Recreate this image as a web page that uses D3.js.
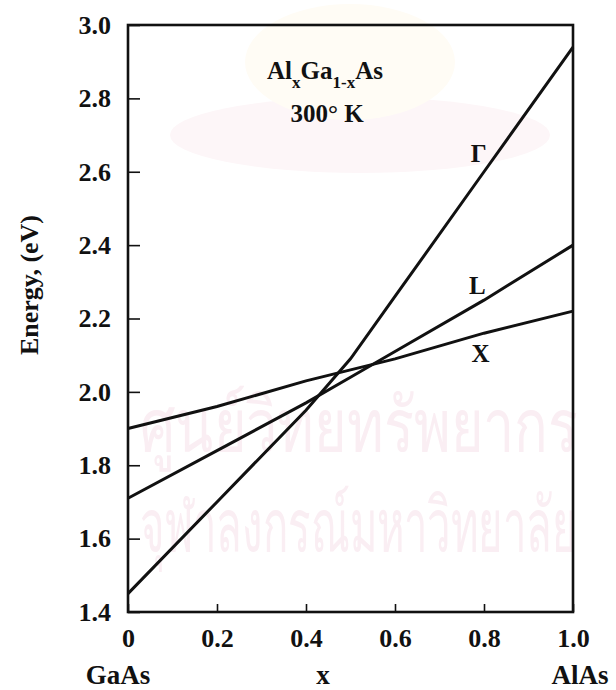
<!DOCTYPE html>
<html>
<head>
<meta charset="utf-8">
<script src="https://cdn.jsdelivr.net/npm/d3@7"></script>
<style>
  html,body{margin:0;padding:0;background:#fff;}
  svg{display:block;}
</style>
</head>
<body>
<div id="chart"></div>
<script>
// AlxGa1-xAs band gaps at 300 K
const xs     = [0, 0.2, 0.4, 0.5, 0.6, 0.8, 1.0];
const gammaE = [1.45, 1.70, 1.95, 2.09, 2.26, 2.60, 2.94];
const lE     = [1.71, 1.84, 1.97, 2.04, 2.11, 2.25, 2.40];
const xE     = [1.90, 1.96, 2.03, 2.06, 2.09, 2.16, 2.22];
const yTicks = [1.4, 1.6, 1.8, 2.0, 2.2, 2.4, 2.6, 2.8, 3.0];
const xTicks = [0, 0.2, 0.4, 0.6, 0.8, 1.0];
const xTickLabels = ['0', '0.2', '0.4', '0.6', '0.8', '1.0'];
const series = [
  {name: 'Γ', values: gammaE, lx: 0.788, ly: 2.65},
  {name: 'L', values: lE, lx: 0.785, ly: 2.29},
  {name: 'X', values: xE, lx: 0.792, ly: 2.105}
];
const watermark = ['ศูนย์วิทยทรัพยากร', 'จุฬาลงกรณ์มหาวิทยาลัย'];

const W = 616, H = 690;
const m = {top: 25, right: 43, bottom: 78, left: 128};
const iw = W - m.left - m.right, ih = H - m.top - m.bottom;
const ink = '#111';
const serif = '"Liberation Serif","Times New Roman",serif';

const svg = d3.select('#chart').append('svg').attr('width', W).attr('height', H);

// faint library watermark of the scan
const wm = svg.append('g').attr('font-family', '"Noto Sans","DejaVu Sans",sans-serif');
wm.append('ellipse').attr('cx', 360).attr('cy', 135).attr('rx', 190).attr('ry', 38)
  .attr('fill', '#fdf6f8');
wm.append('ellipse').attr('cx', 350).attr('cy', 62).attr('rx', 105).attr('ry', 58)
  .attr('fill', '#fffcf5');
wm.selectAll('.wm').data(watermark).enter().append('text')
  .attr('class', 'wm').attr('font-size', 76).attr('fill', '#faeef3')
  .text(d => d)
  .attr('transform', function(d, i) {
    const len = this.getComputedTextLength() || 448;
    return `translate(140,${452 + i * 100}) scale(${Math.min(1, 440 / len)},1)`;
  });

const g = svg.append('g').attr('transform', `translate(${m.left},${m.top})`);

const x = d3.scaleLinear().domain([0, 1]).range([0, iw]);
const y = d3.scaleLinear().domain([1.4, 3.0]).range([ih, 0]);

// axes
const ya = g.append('g').call(d3.axisLeft(y).tickValues(yTicks)
  .tickFormat(d3.format('.1f')).tickSize(-12).tickPadding(17));
const xa = g.append('g').attr('transform', `translate(0,${ih})`)
  .call(d3.axisBottom(x).tickValues(xTicks)
  .tickFormat((d, i) => xTickLabels[i]).tickSize(-8).tickPadding(17));
[ya, xa].forEach(a => {
  a.select('.domain').remove();
  a.selectAll('.tick line').attr('stroke', ink).attr('stroke-width', 1.6);
  a.selectAll('text').attr('fill', ink).style('font-family', serif)
    .style('font-size', '26px').style('font-weight', 'bold');
});

// frame
g.append('rect').attr('width', iw).attr('height', ih)
  .attr('fill', 'none').attr('stroke', ink).attr('stroke-width', 2.6);

// curves
const line = d3.line().x((d, i) => x(xs[i])).y(d => y(d));
g.selectAll('.curve').data(series).enter().append('path')
  .attr('class', 'curve')
  .attr('d', d => line(d.values))
  .attr('fill', 'none').attr('stroke', ink).attr('stroke-width', 3);

g.selectAll('.clabel').data(series).enter().append('text')
  .attr('x', d => x(d.lx)).attr('y', d => y(d.ly))
  .attr('text-anchor', 'middle').attr('dy', '0.35em')
  .attr('fill', ink).style('font-family', serif).style('font-size', '25px')
  .style('font-weight', 'bold').text(d => d.name);

// title block
const t = g.append('text').attr('x', 325 - m.left).attr('y', 79 - m.top)
  .attr('text-anchor', 'middle')
  .attr('fill', ink).style('font-family', serif).style('font-size', '25px')
  .style('font-weight', 'bold');
t.append('tspan').text('Al');
t.append('tspan').attr('dy', 9).style('font-size', '17px').text('x');
t.append('tspan').attr('dy', -9).text('Ga');
t.append('tspan').attr('dy', 9).style('font-size', '17px').text('1-x');
t.append('tspan').attr('dy', -9).text('As');
g.append('text').attr('x', 327 - m.left).attr('y', 122 - m.top)
  .attr('text-anchor', 'middle').attr('fill', ink)
  .style('font-family', serif).style('font-size', '25px').style('font-weight', 'bold')
  .text('300° K');

// axis titles
svg.append('text').attr('transform', 'translate(38,285) rotate(-90)')
  .attr('text-anchor', 'middle').attr('fill', ink)
  .style('font-family', serif).style('font-size', '26px').style('font-weight', 'bold')
  .text('Energy, (eV)');
const foot = [['GaAs', 118], ['x', 323], ['AlAs', 580]];
svg.selectAll('.foot').data(foot).enter().append('text')
  .attr('x', d => d[1]).attr('y', 684).attr('text-anchor', 'middle').attr('fill', ink)
  .style('font-family', serif).style('font-size', '27px').style('font-weight', 'bold')
  .text(d => d[0]);
</script>
</body>
</html>
